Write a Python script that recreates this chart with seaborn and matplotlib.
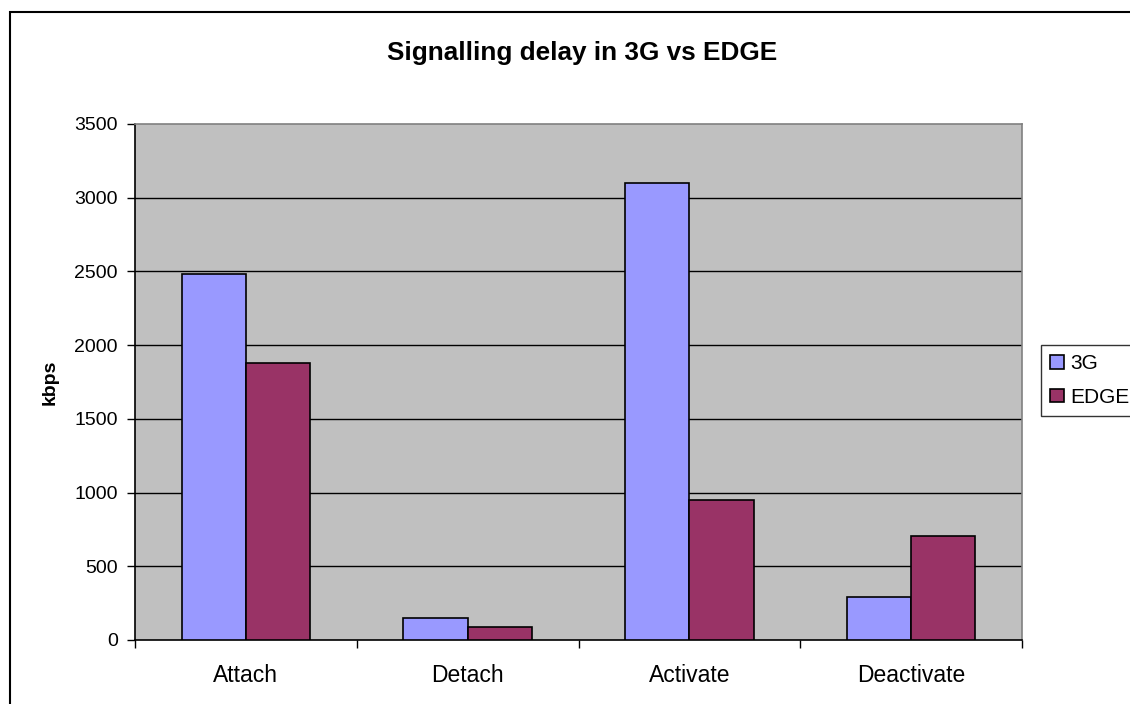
import matplotlib
matplotlib.use("Agg")
import matplotlib.pyplot as plt
from matplotlib.patches import Rectangle
from matplotlib.ticker import FixedLocator
import seaborn as sns
import pandas as pd

# Signalling procedures and measured rates per network type
categories = ["Attach", "Detach", "Activate", "Deactivate"]
series_names = ["3G", "EDGE"]
values_3g = [2485, 147, 3100, 292]
values_edge = [1882, 90, 952, 706]
y_ticks = [0, 500, 1000, 1500, 2000, 2500, 3000, 3500]

colors = {"3G": "#9999FF", "EDGE": "#993366"}

df = pd.DataFrame({
    "procedure": categories * 2,
    "network": [series_names[0]] * len(categories) + [series_names[1]] * len(categories),
    "kbps": values_3g + values_edge,
})

sns.set_theme(style="white")
plt.rcParams["font.family"] = ["Liberation Sans", "DejaVu Sans"]
plt.rcParams["text.color"] = "black"

fig = plt.figure(figsize=(11.3, 7.04), dpi=100)
ax = fig.add_axes([135 / 1130, 64 / 704, 887 / 1130, 516 / 704])

sns.barplot(
    data=df, x="procedure", y="kbps", hue="network", order=categories,
    hue_order=series_names, palette=colors, width=0.58,
    edgecolor="black", linewidth=1.2, saturation=1, ax=ax, zorder=3,
)

ax.set_facecolor("#C0C0C0")
ax.set_xlim(-0.5, len(categories) - 0.5)
ax.set_ylim(0, 3500)
ax.set_yticks(y_ticks)
ax.set_yticklabels([str(v) for v in y_ticks])
for v in y_ticks[1:-1]:
    ax.axhline(v, color="black", linewidth=1, zorder=1)

for side in ["top", "right", "left", "bottom"]:
    ax.spines[side].set_color("#808080")
    ax.spines[side].set_linewidth(1.2)
ax.spines["left"].set_color("black")
ax.spines["bottom"].set_color("black")

# Category boundary ticks below the x axis
ax.xaxis.set_minor_locator(FixedLocator([i - 0.5 for i in range(len(categories) + 1)]))
ax.tick_params(axis="x", which="major", length=0, pad=17, labelsize=16.5, colors="black")
ax.tick_params(axis="x", which="minor", length=6, width=1, color="black", bottom=True)
ax.tick_params(axis="y", which="major", length=6, width=1, color="black", left=True,
               pad=6.5, labelsize=14, labelcolor="black")

ax.set_xlabel("")
ax.set_ylabel("kbps", fontsize=14, fontweight="bold", labelpad=11, color="black")

handles, labels = ax.get_legend_handles_labels()
ax.get_legend().remove()
leg = fig.legend(
    handles, labels, loc="upper left", bbox_to_anchor=(1041 / 1130, 1 - 345 / 704),
    frameon=True, fancybox=False, fontsize=15, handlelength=0.63, handleheight=0.63,
    handletextpad=0.33, borderpad=0.45, labelspacing=0.7, borderaxespad=0,
)
leg.get_frame().set_edgecolor("black")
leg.get_frame().set_linewidth(1)

fig.text(582 / 1130, 1 - 53 / 704, "Signalling delay in 3G vs EDGE",
         ha="center", va="center", fontsize=18.8, fontweight="bold", color="black")

fig.patches.append(Rectangle((10 / 1130, -0.05), 1.1, 0.05 + 1 - 12 / 704,
                             transform=fig.transFigure, fill=False,
                             edgecolor="black", linewidth=1.5))

fig.savefig("out.png", dpi=100)
